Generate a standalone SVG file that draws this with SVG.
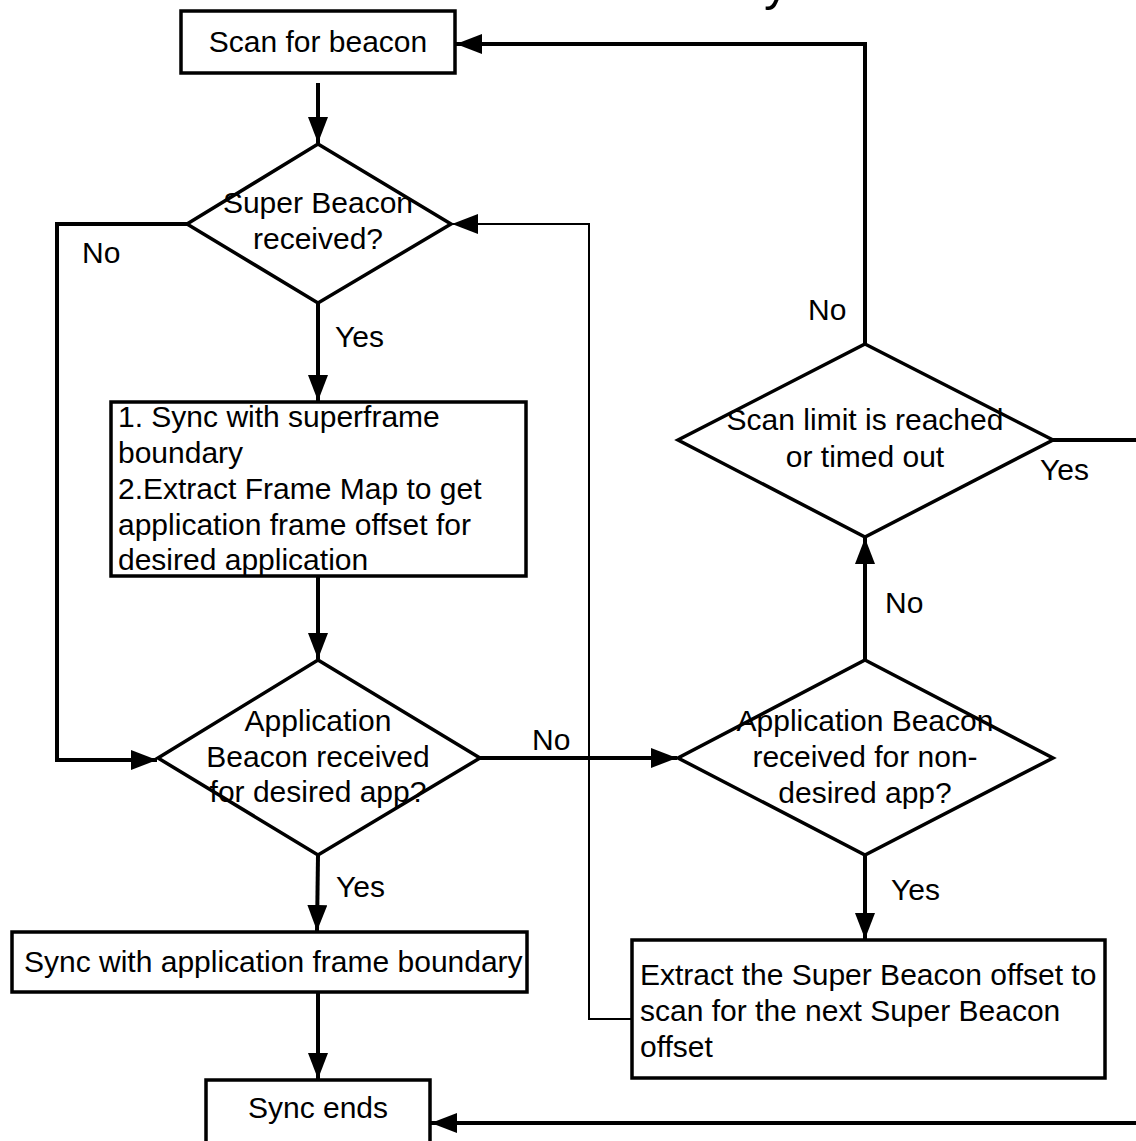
<svg xmlns="http://www.w3.org/2000/svg" width="1136" height="1141" viewBox="0 0 1136 1141">
<style>
text{font-family:"Liberation Sans",Arial,sans-serif;font-size:30px;fill:#000}
.c{text-anchor:middle}
.shape{fill:#fff;stroke:#000;stroke-width:3.5}
.line{fill:none;stroke:#000;stroke-width:4}
.thin{fill:none;stroke:#000;stroke-width:2}
</style>
<defs>
<marker id="ah" viewBox="0 0 26 20" refX="26" refY="10" markerWidth="26" markerHeight="20" markerUnits="userSpaceOnUse" orient="auto">
<path d="M0,0 L26,10 L0,20 Z" fill="#000"/>
</marker>
</defs>
<rect width="1136" height="1141" fill="#fff"/>
<text x="764" y="0" style="font-size:50px">y</text>
<g id="connectors">
<path class="line" d="M318,83 V143" marker-end="url(#ah)"/>
<path class="line" d="M318,303 V401" marker-end="url(#ah)"/>
<path class="line" d="M318,576 V659" marker-end="url(#ah)"/>
<path class="line" d="M318,855 L317,931" marker-end="url(#ah)"/>
<path class="line" d="M318,992 V1079" marker-end="url(#ah)"/>
<path class="line" d="M187,224 H57 V760 H157" marker-end="url(#ah)"/>
<path class="line" d="M480,758 H677" marker-end="url(#ah)"/>
<path class="thin" d="M632,1019 H589 V224 H452" marker-end="url(#ah)"/>
<path class="line" d="M865,855 V939" marker-end="url(#ah)"/>
<path class="line" d="M865,660 V538" marker-end="url(#ah)"/>
<path class="line" d="M865,344 V44 H456" marker-end="url(#ah)"/>
<path class="line" d="M1053,440 H1142 V1123 H431" marker-end="url(#ah)"/>
<text x="82" y="263">No</text>
<text x="335" y="347">Yes</text>
<text x="532" y="750">No</text>
<text x="336" y="897">Yes</text>
<text x="891" y="900">Yes</text>
<text x="885" y="613">No</text>
<text x="808" y="320">No</text>
<text x="1040" y="480">Yes</text>
</g>
<g id="scan">
<rect class="shape" x="181" y="11" width="274" height="62"/>
<text class="c" x="318" y="52">Scan for beacon</text>
</g>
<g id="superBeacon">
<polygon class="shape" points="318,144 451,224 318,303 187,224"/>
<text class="c" x="318" y="213">Super Beacon</text>
<text class="c" x="318" y="249">received?</text>
</g>
<g id="syncSuperframe">
<rect class="shape" x="111" y="402" width="415" height="174"/>
<text x="118" y="427">1. Sync with superframe</text>
<text x="118" y="463">boundary</text>
<text x="118" y="499">2.Extract Frame Map to get</text>
<text x="118" y="535">application frame offset for</text>
<text x="118" y="570">desired application</text>
</g>
<g id="appBeaconDesired">
<polygon class="shape" points="318,660 480,758 318,855 158,758"/>
<text class="c" x="318" y="731">Application</text>
<text class="c" x="318" y="767">Beacon received</text>
<text class="c" x="318" y="802">for desired app?</text>
</g>
<g id="syncAppFrame">
<rect class="shape" x="12" y="932" width="515" height="60"/>
<text x="24" y="972">Sync with application frame boundary</text>
</g>
<g id="syncEnds">
<rect class="shape" x="206" y="1080" width="224" height="80"/>
<text class="c" x="318" y="1118">Sync ends</text>
</g>
<g id="appBeaconNonDesired">
<polygon class="shape" points="865,660 1053,758 865,855 678,758"/>
<text class="c" x="865" y="731">Application Beacon</text>
<text class="c" x="865" y="767">received for non-</text>
<text class="c" x="865" y="803">desired app?</text>
</g>
<g id="extractOffset">
<rect class="shape" x="632" y="940" width="473" height="138"/>
<text x="640" y="985">Extract the Super Beacon offset to</text>
<text x="640" y="1021">scan for the next Super Beacon</text>
<text x="640" y="1057">offset</text>
</g>
<g id="scanLimit">
<polygon class="shape" points="865,344 1053,440 865,537 678,440"/>
<text class="c" x="865" y="430">Scan limit is reached</text>
<text class="c" x="865" y="467">or timed out</text>
</g>
</svg>
